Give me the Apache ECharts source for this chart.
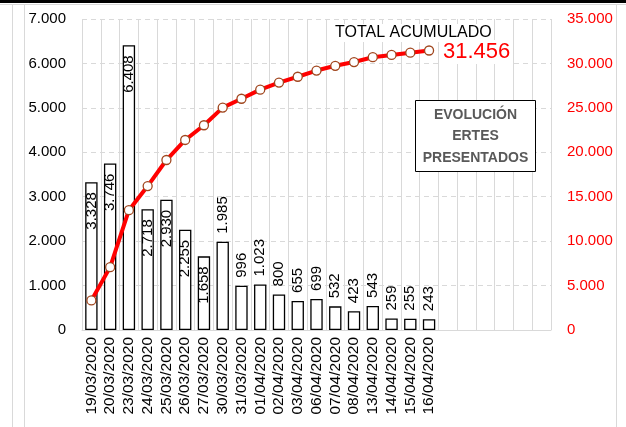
<!DOCTYPE html>
<html><head><meta charset="utf-8">
<script src="https://cdn.jsdelivr.net/npm/echarts@6/dist/echarts.min.js"></script>
<style>html,body{margin:0;padding:0;background:#fff}#c{width:626px;height:427px}</style>
</head><body><div id="c"></div>
<script>
const fechas = ['19/03/2020','20/03/2020','23/03/2020','24/03/2020','25/03/2020','26/03/2020','27/03/2020','30/03/2020','31/03/2020','01/04/2020','02/04/2020','03/04/2020','06/04/2020','07/04/2020','08/04/2020','13/04/2020','14/04/2020','15/04/2020','16/04/2020'];
const ertesDiarios = [3328,3746,6408,2718,2930,2255,1658,1985,996,1023,800,655,699,532,423,543,259,255,243];
const totalAcumulado = [3328,7074,13482,16200,19130,21385,23043,25028,26024,27047,27847,28502,29201,29733,30156,30699,30958,31213,31456];
const ticksIzq = [0,1000,2000,3000,4000,5000,6000,7000];
const ticksDer = [0,5000,10000,15000,20000,25000,30000,35000];
const huecosVacios = 6;

const fmt = v => v === 0 ? '0' : String(v).replace(/\B(?=(\d{3})+(?!\d))/g, '.');
const cats = fechas.concat(Array(huecosVacios).fill(''));
const FONT = 'Liberation Sans';

const barData = ertesDiarios.map(v => {
  const inside = v >= 1600 && v !== 1985;
  return {
    value: v,
    label: inside
      ? {position: 'insideTop', align: 'right', distance: 10}
      : {position: 'top', align: 'left', distance: 8}
  };
});

const chart = echarts.init(document.getElementById('c'), null, {renderer: 'canvas'});
chart.setOption({
  animation: false,
  backgroundColor: '#fff',
  grid: {left: 82, right: 75, top: 19, bottom: 97},
  xAxis: {
    type: 'category', data: cats, boundaryGap: true,
    axisLine: {lineStyle: {color: '#d9d9d9', width: 1}},
    axisTick: {show: false},
    splitLine: {show: true, interval: 0, lineStyle: {color: '#d9d9d9', width: 1}},
    axisLabel: {rotate: 90, interval: 0, fontFamily: FONT, fontSize: 15.5, color: '#000', margin: 7}
  },
  yAxis: [
    {type: 'value', min: ticksIzq[0], max: ticksIzq[ticksIzq.length-1], interval: 1000,
     axisLine: {show: false}, axisTick: {show: false},
     splitLine: {lineStyle: {color: '#d9d9d9', type: [5,4]}},
     axisLabel: {fontFamily: FONT, fontSize: 15, color: '#000', margin: 16, formatter: fmt}},
    {type: 'value', min: ticksDer[0], max: ticksDer[ticksDer.length-1], interval: 5000,
     axisLine: {show: false}, axisTick: {show: false}, splitLine: {show: false},
     axisLabel: {fontFamily: FONT, fontSize: 15, color: '#ff0000', margin: 16, formatter: fmt}}
  ],
  series: [
    {type: 'bar', yAxisIndex: 0, data: barData, barCategoryGap: '34%',
     itemStyle: {color: '#fff', borderColor: '#000', borderWidth: 1.3},
     label: {show: true, rotate: 90, verticalAlign: 'middle', fontFamily: FONT, fontSize: 15, color: '#000',
             formatter: p => fmt(p.value)}},
    {type: 'line', yAxisIndex: 1, data: totalAcumulado, z: 5,
     lineStyle: {color: '#ff0000', width: 4},
     symbol: 'circle', symbolSize: 9,
     itemStyle: {color: '#fff', borderColor: '#a0461e', borderWidth: 1.3}}
  ],
  graphic: [
    {type: 'rect', left: 0, top: 0, shape: {width: 626, height: 3}, style: {fill: '#000'}},
    {type: 'line', shape: {x1: 0, y1: 4.5, x2: 626, y2: 4.5}, style: {stroke: '#d9d9d9', lineWidth: 1}},
    {type: 'line', shape: {x1: 12.5, y1: 4, x2: 12.5, y2: 427}, style: {stroke: '#d9d9d9', lineWidth: 1}},
    {type: 'line', shape: {x1: 24.5, y1: 4, x2: 24.5, y2: 427}, style: {stroke: '#d9d9d9', lineWidth: 1}},
    {type: 'line', shape: {x1: 616.5, y1: 4, x2: 616.5, y2: 427}, style: {stroke: '#d9d9d9', lineWidth: 1}},
    {type: 'text', x: 333, y: 24, z: 3,
     style: {text: 'TOTAL ACUMULADO', font: '16px "Liberation Sans"', fill: '#000', backgroundColor: '#fff', padding: [1, 2]}},
    {type: 'text', x: 441, y: 40, z: 3,
     style: {text: fmt(totalAcumulado[totalAcumulado.length-1]), font: '22px "Liberation Sans"', fill: '#ff0000', backgroundColor: '#fff', padding: [1, 2]}},
    {type: 'rect', x: 415.5, y: 100.5, shape: {width: 120, height: 71}, style: {fill: '#fff', stroke: '#000', lineWidth: 1}, z: 10},
    {type: 'text', x: 475.5, y: 104, z: 11,
     style: {text: 'EVOLUCIÓN\nERTES\nPRESENTADOS', align: 'center', verticalAlign: 'top', font: 'bold 14px "Liberation Sans"', lineHeight: 21.5, fill: '#595959'}}
  ]
});
</script></body></html>
